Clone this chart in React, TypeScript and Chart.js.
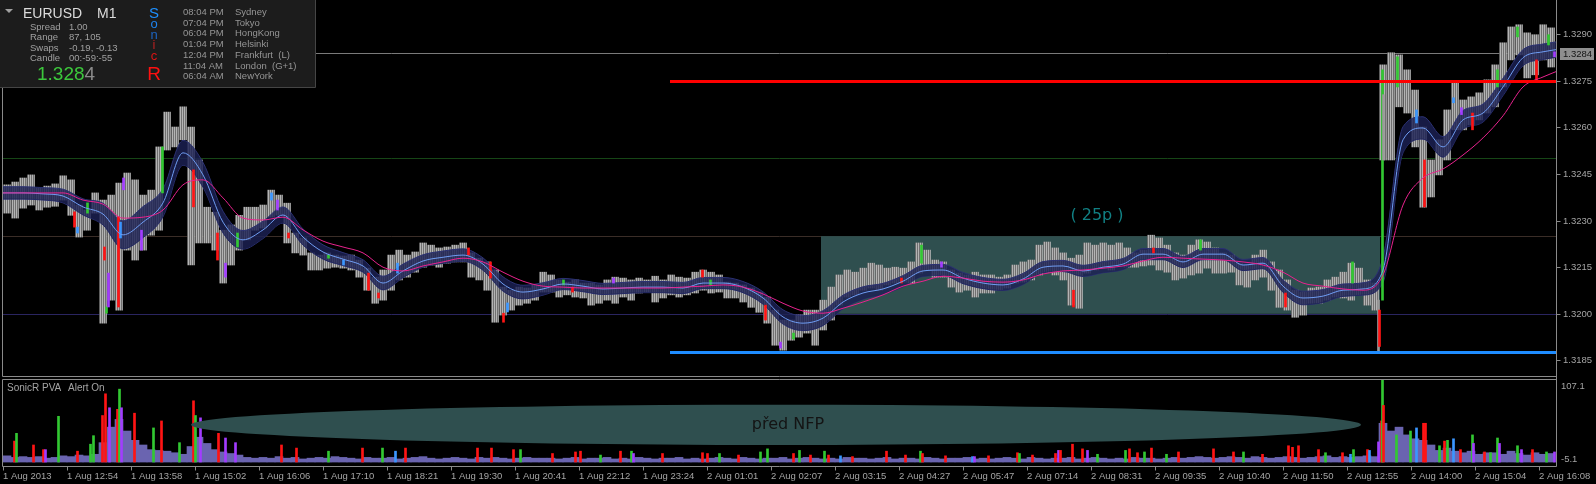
import React, { useEffect, useRef } from "react";
import { Chart, registerables } from "chart.js";

Chart.register(...registerables);

// ---------------- data ----------------
const SYMBOL = "EURUSD";
const PERIOD = "M1";
const TIME_LABELS = [
  "1 Aug 2013", "1 Aug 12:54", "1 Aug 13:58", "1 Aug 15:02", "1 Aug 16:06", "1 Aug 17:10",
  "1 Aug 18:21", "1 Aug 19:30", "1 Aug 20:41", "1 Aug 22:12", "1 Aug 23:24", "2 Aug 01:01",
  "2 Aug 02:07", "2 Aug 03:15", "2 Aug 04:27", "2 Aug 05:47", "2 Aug 07:14", "2 Aug 08:31",
  "2 Aug 09:35", "2 Aug 10:40", "2 Aug 11:50", "2 Aug 12:55", "2 Aug 14:00", "2 Aug 15:04",
  "2 Aug 16:08",
];
const BARS_PER_LABEL = 64;
const LAST_BAR = 1553;

const PRICE_TICKS = [1.329, 1.3275, 1.326, 1.3245, 1.323, 1.3215, 1.32, 1.3185];
const PRICE_MIN = 1.318;
const PRICE_MAX = 1.33;
const BID = 1.3284;
const RESISTANCE = 1.3275;
const SUPPORT = 1.31878;
const LINES_FROM_BAR = 667;
const GRID_LEVELS = [1.325, 1.3225, 1.32];
const RANGE_BOX = { fromBar: 818, toBar: 1377, low: 1.32, high: 1.3225 };
const RANGE_LABEL = { text: "( 25p )", bar: 1094, price: 1.32315 };

// price bars aggregated per 8 one-minute bars
const CHUNK = 8;
const HIGH = [
  1.32415, 1.32424, 1.32437, 1.32447, 1.32405, 1.32411, 1.32418, 1.32444, 1.32431, 1.3235,
  1.32334, 1.32389, 1.32366, 1.32382, 1.32421, 1.32453, 1.32431, 1.32382, 1.32398, 1.32537,
  1.32649, 1.32601, 1.32666, 1.32601, 1.32495, 1.32343, 1.32327, 1.32269, 1.32286, 1.32317,
  1.32343, 1.32343, 1.3235, 1.32398, 1.32382, 1.32356, 1.3226, 1.32244, 1.32196, 1.32189,
  1.32196, 1.32189, 1.32186, 1.32189, 1.32173, 1.32147, 1.32118, 1.32141, 1.32189, 1.32205,
  1.32189, 1.32199, 1.32228, 1.32221, 1.32212, 1.32215, 1.32221, 1.32228, 1.32196, 1.32179,
  1.32167, 1.32141, 1.32086, 1.32076, 1.32086, 1.32083, 1.32093, 1.32134, 1.32125, 1.32109,
  1.32102, 1.32109, 1.32099, 1.32099, 1.32093, 1.32109, 1.32118, 1.32115, 1.32109, 1.32115,
  1.32109, 1.32121, 1.32109, 1.32125, 1.32118, 1.32115, 1.32134, 1.32141, 1.32134, 1.32125,
  1.32102, 1.32099, 1.32093, 1.32083, 1.3207, 1.32054, 1.32012, 1.3198, 1.3198, 1.31996,
  1.32012, 1.32012, 1.32044, 1.32086, 1.32125, 1.32141, 1.32134, 1.32147, 1.32163, 1.32157,
  1.32147, 1.3215, 1.32147, 1.32167, 1.32228, 1.32205, 1.32173, 1.32167, 1.32141, 1.32131,
  1.32125, 1.32134, 1.32125, 1.32125, 1.32118, 1.32125, 1.32157, 1.32167, 1.32173, 1.32221,
  1.32231, 1.32212, 1.32196, 1.32179, 1.32189, 1.32228, 1.32221, 1.32228, 1.32221, 1.32228,
  1.32212, 1.32196, 1.32205, 1.32253, 1.32244, 1.32221, 1.32196, 1.32189, 1.32221, 1.32238,
  1.32231, 1.32212, 1.32196, 1.32189, 1.32163, 1.32157, 1.32189, 1.32205, 1.32167, 1.32141,
  1.32109, 1.32076, 1.3207, 1.32083, 1.32086, 1.32109, 1.32118, 1.32134, 1.32163, 1.32147,
  1.32109, 1.32099, 1.32801, 1.3284, 1.32833, 1.32785, 1.3272, 1.32601, 1.32495, 1.3256,
  1.32656, 1.32743, 1.32688, 1.32698, 1.32711, 1.32753, 1.32801, 1.32872, 1.32923, 1.3293,
  1.32904, 1.32898, 1.3293, 1.3292,
];
const LOW = [
  1.32324, 1.32308, 1.3234, 1.3235, 1.32334, 1.32343, 1.32346, 1.32366, 1.32317, 1.32247,
  1.32269, 1.32324, 1.3197, 1.32044, 1.32012, 1.32205, 1.32173, 1.32205, 1.32253, 1.32269,
  1.32527, 1.32537, 1.3256, 1.32157, 1.32228, 1.32228, 1.32205, 1.32099, 1.32157, 1.32205,
  1.32238, 1.32269, 1.32276, 1.32311, 1.32317, 1.32228, 1.32196, 1.32189, 1.32141, 1.32141,
  1.32147, 1.3215, 1.32147, 1.32141, 1.32118, 1.32076, 1.32034, 1.32044, 1.32076, 1.32109,
  1.32118, 1.32134, 1.3215, 1.32157, 1.3215, 1.32163, 1.32167, 1.32167, 1.32118, 1.32109,
  1.32076, 1.31973, 1.31996, 1.32012, 1.32028, 1.32034, 1.32044, 1.3207, 1.3207, 1.32054,
  1.32061, 1.32054, 1.32051, 1.32028, 1.32034, 1.32044, 1.32034, 1.32054, 1.32044, 1.32067,
  1.3207, 1.32038, 1.32051, 1.32061, 1.32054, 1.32061, 1.32067, 1.32076, 1.32067, 1.3207,
  1.32051, 1.32051, 1.32038, 1.32021, 1.32005, 1.3197, 1.31899, 1.31883, 1.31915, 1.31925,
  1.31938, 1.31899, 1.31948, 1.3198, 1.32028, 1.32054, 1.32061, 1.32076, 1.32083, 1.32076,
  1.32093, 1.32099, 1.32102, 1.32099, 1.32131, 1.32141, 1.32118, 1.32118, 1.32086, 1.3207,
  1.32076, 1.32054, 1.32067, 1.32067, 1.32076, 1.32083, 1.32099, 1.32102, 1.32109, 1.32125,
  1.32134, 1.32125, 1.32109, 1.32028, 1.32018, 1.32131, 1.32141, 1.32147, 1.32141, 1.32157,
  1.3215, 1.3215, 1.32154, 1.32157, 1.32141, 1.32134, 1.32109, 1.32115, 1.32125, 1.32131,
  1.32147, 1.32131, 1.32131, 1.32134, 1.32093, 1.32086, 1.32109, 1.32118, 1.32076, 1.32021,
  1.32012, 1.31989, 1.31996, 1.32034, 1.32034, 1.32044, 1.32054, 1.32051, 1.32044, 1.32061,
  1.32028, 1.32012, 1.32495, 1.32495, 1.32666, 1.32646, 1.32537, 1.32343, 1.32376, 1.32447,
  1.32495, 1.32592, 1.32592, 1.32608, 1.32624, 1.32646, 1.32666, 1.3273, 1.32817, 1.32833,
  1.32759, 1.32769, 1.32817, 1.32794,
];

// single coloured (high-volume) candles and the NFP wick: [bar, high, low, kind]
const ACCENTS: Array<[number, number, number, string]> = [
  [71, 1.32328, 1.32279, "r"], [74, 1.32279, 1.3226, "b"], [84, 1.32357, 1.32324, "g"],
  [101, 1.32215, 1.32173, "r"], [103, 1.32022, 1.32002, "g"], [105, 1.32131, 1.32022, "p"],
  [115, 1.32312, 1.32022, "r"], [117, 1.32295, 1.32244, "b"], [120, 1.32437, 1.32399, "p"],
  [138, 1.32269, 1.32205, "p"], [159, 1.32537, 1.32389, "g"], [190, 1.32463, 1.32344, "r"],
  [214, 1.3226, 1.32173, "r"], [222, 1.32163, 1.32118, "p"], [234, 1.3226, 1.32215, "g"],
  [268, 1.32389, 1.32366, "b"], [274, 1.32366, 1.32334, "p"], [285, 1.3226, 1.32244, "r"],
  [325, 1.32189, 1.32179, "g"], [340, 1.32173, 1.32157, "b"], [365, 1.32131, 1.32076, "r"],
  [375, 1.32067, 1.32051, "r"], [394, 1.32163, 1.32131, "b"], [465, 1.32212, 1.32189, "r"],
  [487, 1.32167, 1.32115, "r"], [500, 1.32002, 1.31973, "r"], [504, 1.32035, 1.32006, "b"],
  [560, 1.32109, 1.32093, "g"], [569, 1.32086, 1.3207, "r"], [610, 1.32115, 1.32099, "p"],
  [699, 1.32141, 1.32118, "r"], [707, 1.32109, 1.32093, "g"], [762, 1.32028, 1.3198, "r"],
  [777, 1.31909, 1.3189, "p"], [790, 1.31938, 1.31919, "g"], [898, 1.32115, 1.32099, "r"],
  [918, 1.32221, 1.32163, "g"], [938, 1.32167, 1.3215, "p"], [1070, 1.32076, 1.32022, "r"],
  [1150, 1.32212, 1.32196, "r"], [1197, 1.32238, 1.32205, "g"], [1282, 1.32067, 1.32022, "r"],
  [1349, 1.32167, 1.32099, "g"], [1375, 1.32044, 1.31876, "w"], [1376, 1.32012, 1.31895, "r"],
  [1379, 1.32785, 1.32044, "g"], [1380, 1.32705, 1.32495, "w"],
  [1394, 1.32827, 1.3273, "g"], [1413, 1.32656, 1.32614, "b"], [1421, 1.32495, 1.32344, "r"],
  [1450, 1.32695, 1.32679, "b"], [1458, 1.32663, 1.32641, "p"], [1469, 1.32646, 1.32592, "r"],
  [1494, 1.32785, 1.3273, "g"], [1514, 1.32923, 1.32891, "g"], [1533, 1.32817, 1.32746, "r"],
  [1545, 1.32898, 1.32865, "g"], [1551, 1.32843, 1.32827, "p"],
];

// moving averages sampled every 20 bars
const MA_STEP = 20;
const EMA_CLOSE = [
  1.32389, 1.32389, 1.32386, 1.32379, 1.32344, 1.32321, 1.32254, 1.32295, 1.32357, 1.32518,
  1.32447, 1.32295, 1.32238, 1.3227, 1.32318, 1.32247, 1.32199, 1.32176, 1.32154, 1.32099,
  1.32138, 1.3217, 1.32182, 1.32189, 1.3216, 1.32096, 1.3207, 1.3208, 1.32096, 1.32089,
  1.3208, 1.32083, 1.32086, 1.32086, 1.32083, 1.32099, 1.32099, 1.32086, 1.32051, 1.3199,
  1.3197, 1.31986, 1.32038, 1.32067, 1.3208, 1.32105, 1.32138, 1.32141, 1.32115, 1.32099,
  1.32093, 1.32112, 1.3215, 1.32154, 1.32138, 1.3215, 1.3216, 1.32192, 1.32192, 1.32167,
  1.32192, 1.32192, 1.32157, 1.32163, 1.32089, 1.32051, 1.32057, 1.32076, 1.3208, 1.32141,
  1.3256, 1.32598, 1.32537, 1.32624, 1.32646, 1.3273, 1.32824, 1.32843, 1.32853,
];
const BAND_HALF_PIPS = [
  2.0, 2.0, 2.0, 2.2, 2.6, 3.5, 4.5, 5.0, 4.5, 4.0,
  4.0, 3.5, 3.0, 2.8, 2.6, 2.6, 2.3, 2.1, 2.0, 2.2,
  2.2, 2.0, 2.0, 2.0, 2.0, 2.3, 2.2, 2.0, 1.8, 1.8,
  1.8, 1.8, 1.8, 1.8, 1.8, 1.8, 1.8, 1.8, 2.0, 2.3,
  2.4, 2.4, 2.2, 2.0, 1.8, 1.8, 1.8, 1.8, 1.8, 1.8,
  1.8, 1.8, 1.8, 1.8, 1.8, 1.8, 1.8, 1.8, 1.8, 1.8,
  1.8, 1.8, 1.8, 1.8, 2.0, 2.2, 2.1, 2.0, 2.0, 4.0,
  4.2, 3.6, 3.3, 3.0, 2.9, 2.8, 2.6, 2.5, 2.5,
];
const MA_SLOW = [
  1.32389, 1.32389, 1.32389, 1.32389, 1.32366, 1.32353, 1.32308, 1.32311, 1.32334, 1.32415,
  1.32431, 1.32373, 1.32308, 1.32302, 1.32311, 1.3227, 1.32234, 1.32215, 1.32196, 1.3215,
  1.32138, 1.32154, 1.32167, 1.32179, 1.32167, 1.32134, 1.32105, 1.32089, 1.32086, 1.32083,
  1.32083, 1.32083, 1.32083, 1.32083, 1.32086, 1.32089, 1.32093, 1.32086, 1.32064, 1.32034,
  1.32009, 1.32002, 1.32018, 1.32038, 1.32061, 1.32089, 1.32105, 1.32121, 1.32115, 1.32105,
  1.32102, 1.32109, 1.32128, 1.32138, 1.32141, 1.32147, 1.32154, 1.3217, 1.32182, 1.32179,
  1.32176, 1.32173, 1.32167, 1.32157, 1.32134, 1.32099, 1.32089, 1.3208, 1.32076, 1.32125,
  1.3235, 1.32437, 1.32466, 1.32511, 1.32566, 1.32637, 1.3273, 1.32762, 1.32788,
];

// volume (SonicR PVA), per 8 bars
const VOL_MIN = -5.1;
const VOL_MAX = 107.1;
const VOL_BASE = [
  8, 6, 7, 6, 7, 5, 6, 8, 7, 9,
  8, 10, 25, 45, 55, 40, 28, 22, 16, 15,
  14, 12, 10, 20, 32, 24, 16, 13, 11, 9,
  6, 5, 6, 5, 7, 5, 6, 4, 5, 6,
  5, 7, 6, 5, 4, 6, 5, 5, 6, 4,
  5, 6, 7, 5, 4, 5, 6, 5, 4, 6,
  5, 6, 5, 4, 5, 6, 5, 5, 5, 4,
  5, 6, 4, 5, 5, 6, 4, 5, 4, 6,
  5, 4, 5, 5, 6, 4, 5, 4, 5, 6,
  5, 4, 6, 5, 4, 5, 5, 6, 4, 5,
  6, 5, 4, 5, 4, 6, 5, 5, 4, 5,
  6, 4, 5, 5, 4, 6, 5, 4, 5, 5,
  6, 4, 5, 4, 5, 6, 5, 4, 6, 5,
  4, 5, 5, 6, 4, 5, 6, 5, 4, 5,
  4, 6, 5, 5, 4, 5, 6, 5, 6, 7,
  6, 5, 6, 7, 6, 5, 7, 6, 5, 6,
  7, 6, 5, 6, 7, 8, 6, 7, 6, 7,
  8, 7, 50, 40, 45, 35, 30, 28, 22, 15,
  18, 14, 12, 14, 10, 12, 12, 10, 14, 11,
  9, 12, 10, 11,
];
// single-bar volume spikes: [bar, value, kind]
const VOL_SPIKES: Array<[number, number, string]> = [
  [11, 27, "r"], [13, 37, "g"], [30, 22, "r"], [40, 16, "r"], [42, 16, "p"], [55, 59, "g"],
  [74, 14, "r"], [87, 23, "g"], [90, 34, "g"], [99, 60, "r"], [102, 88, "r"], [106, 70, "p"],
  [114, 68, "r"], [116, 94, "g"], [118, 70, "p"], [131, 63, "r"], [150, 44, "g"], [158, 53, "r"],
  [176, 25, "g"], [190, 79, "r"], [192, 60, "g"], [197, 57, "p"], [215, 37, "r"], [222, 31, "p"],
  [232, 25, "p"], [278, 22, "r"], [293, 18, "r"], [325, 14, "g"], [359, 18, "r"], [379, 18, "g"],
  [392, 14, "b"], [402, 18, "r"], [474, 18, "r"], [488, 18, "r"], [510, 16, "r"], [517, 16, "g"],
  [549, 11, "r"], [572, 13, "r"], [577, 14, "r"], [597, 9, "g"], [617, 14, "r"], [628, 14, "g"],
  [630, 11, "p"], [659, 11, "r"], [699, 12, "r"], [704, 11, "r"], [716, 11, "g"], [735, 9, "r"],
  [757, 13, "g"], [764, 17, "g"], [790, 11, "r"], [796, 15, "g"], [807, 9, "r"], [821, 14, "g"],
  [825, 9, "r"], [837, 8, "b"], [849, 7, "r"], [883, 14, "r"], [902, 9, "r"], [917, 14, "g"],
  [919, 11, "r"], [942, 8, "r"], [969, 7, "b"], [971, 7, "p"], [985, 8, "r"], [1014, 12, "r"],
  [1016, 11, "g"], [1029, 9, "r"], [1052, 11, "r"], [1055, 15, "p"], [1057, 15, "r"], [1069, 23, "r"],
  [1079, 17, "r"], [1084, 15, "p"], [1094, 10, "g"], [1122, 15, "g"], [1126, 17, "r"], [1134, 12, "r"],
  [1141, 13, "g"], [1148, 18, "r"], [1163, 10, "g"], [1175, 13, "r"], [1210, 17, "r"], [1230, 13, "r"],
  [1240, 13, "g"], [1259, 10, "r"], [1285, 21, "r"], [1289, 19, "r"], [1295, 21, "r"], [1315, 16, "r"],
  [1322, 12, "g"], [1339, 12, "r"], [1347, 10, "b"], [1350, 16, "g"], [1364, 16, "r"], [1366, 15, "b"],
  [1375, 26, "p"], [1378, 53, "r"], [1379, 107.1, "g"], [1380, 73, "r"], [1393, 35, "g"], [1407, 40, "g"],
  [1413, 44, "b"], [1420, 50, "r"], [1422, 50, "r"], [1436, 21, "g"], [1441, 27, "r"], [1444, 28, "g"],
  [1450, 30, "b"], [1457, 16, "r"], [1469, 35, "g"], [1470, 24, "p"], [1481, 13, "r"], [1487, 12, "g"],
  [1494, 31, "g"], [1496, 24, "p"], [1514, 21, "g"], [1518, 16, "p"], [1529, 16, "r"], [1543, 13, "g"],
  [1551, 13, "p"],
];
const VOL_NOTE = { text: "před NFP", bar: 785, value: 48, fromBar: 188, toBar: 1358, halfHeight: 26 };

const INFO_ROWS = [
  ["Spread", "1.00"],
  ["Range", "87, 105"],
  ["Swaps", "-0.19, -0.13"],
  ["Candle", "00:-59:-55"],
];
const CLOCKS = [
  ["08:04 PM", "Sydney"],
  ["07:04 PM", "Tokyo"],
  ["06:04 PM", "HongKong"],
  ["01:04 PM", "Helsinki"],
  ["12:04 PM", "Frankfurt  (L)"],
  ["11:04 AM", "London  (G+1)"],
  ["06:04 AM", "NewYork"],
];
const SONIC_LETTERS = ["S", "o", "n", "i", "c", "R"];
const VOL_TITLE = ["SonicR PVA", "Alert On"];

// ---------------- styles ----------------
const FONT = '"Liberation Sans", Arial, sans-serif';
const KIND_COLORS: Record<string, string> = { r: "#FF1414", g: "#32C832", p: "#A23CFF", b: "#3A96FF", w: "#9a9a9a" };
const LEVEL_COLORS = ["#164616", "#3a2d27", "#2a2560"];
const FRAME = "#8a8a8a";
const LABEL = "#a4a4a4";

function hline(ctx: CanvasRenderingContext2D, py: number, x0: number, x1: number, color: string, w: number) {
  const yy = w % 2 === 1 ? Math.round(py) + 0.5 : Math.round(py);
  ctx.strokeStyle = color;
  ctx.lineWidth = w;
  ctx.beginPath();
  ctx.moveTo(x0, yy);
  ctx.lineTo(x1, yy);
  ctx.stroke();
}

function drawInfoPanel(ctx: CanvasRenderingContext2D) {
  ctx.save();
  ctx.fillStyle = "#1c1c1c";
  ctx.fillRect(0, 0, 315, 87);
  ctx.strokeStyle = "#454545";
  ctx.lineWidth = 1;
  ctx.beginPath();
  ctx.moveTo(315.5, 0);
  ctx.lineTo(315.5, 87.5);
  ctx.lineTo(0, 87.5);
  ctx.stroke();
  ctx.fillStyle = "#a0a0a0";
  ctx.beginPath();
  ctx.moveTo(5, 9);
  ctx.lineTo(13, 9);
  ctx.lineTo(9, 13);
  ctx.closePath();
  ctx.fill();
  ctx.textAlign = "left";
  ctx.textBaseline = "middle";
  ctx.font = `14px ${FONT}`;
  ctx.fillStyle = "#dcdcdc";
  ctx.fillText(SYMBOL, 23, 14);
  ctx.fillText(PERIOD, 97, 14);
  ctx.font = `9.5px ${FONT}`;
  ctx.fillStyle = "#a0a0a0";
  INFO_ROWS.forEach(([k, v], i) => {
    const yy = 27.5 + i * 10.2;
    ctx.fillText(k, 30, yy);
    ctx.fillText(v, 69, yy);
  });
  ctx.font = `19px ${FONT}`;
  const s = BID.toFixed(4);
  const head = s.slice(0, -1);
  ctx.fillStyle = "#3cc83c";
  ctx.fillText(head, 37, 74.5);
  const w = ctx.measureText(head).width;
  ctx.fillStyle = "#8a8a8a";
  ctx.fillText(s.slice(-1), 37 + w, 74.5);
  const ys = [13.5, 24.5, 35.3, 45.5, 56.7, 75];
  const sizes = [15, 13, 13, 13, 13, 19];
  const cols = ["#1E90FF", "#1E84F0", "#1C64C0", "#B42020", "#DC1414", "#FF1010"];
  ctx.textAlign = "center";
  SONIC_LETTERS.forEach((l, i) => {
    ctx.font = `${sizes[i]}px ${FONT}`;
    ctx.fillStyle = cols[i];
    ctx.fillText(l, 154, ys[i]);
  });
  ctx.textAlign = "left";
  ctx.font = `9.5px ${FONT}`;
  ctx.fillStyle = "#969696";
  CLOCKS.forEach(([t, c], i) => {
    const yy = 12.3 + i * 10.75;
    ctx.fillText(t, 183, yy);
    ctx.fillText(c, 235, yy);
  });
  ctx.restore();
}

const mainPlugin = {
  id: "mainDecor",
  beforeDraw(chart: any) {
    const ctx = chart.ctx;
    ctx.save();
    ctx.fillStyle = "#000";
    ctx.fillRect(0, 0, chart.width, chart.height);
    ctx.restore();
  },
  beforeDatasetsDraw(chart: any) {
    const { ctx, chartArea: a } = chart;
    const x = chart.scales.x;
    const y = chart.scales.y;
    ctx.save();
    hline(ctx, y.getPixelForValue(BID), a.left, a.right, "#7a7a7a", 1);
    GRID_LEVELS.forEach((p, i) => hline(ctx, y.getPixelForValue(p), a.left, a.right, LEVEL_COLORS[i], 1));
    const bx0 = x.getPixelForValue(RANGE_BOX.fromBar);
    const bx1 = x.getPixelForValue(RANGE_BOX.toBar);
    const by0 = y.getPixelForValue(RANGE_BOX.high);
    const by1 = y.getPixelForValue(RANGE_BOX.low);
    ctx.fillStyle = "#2F4F4F";
    ctx.fillRect(bx0, by0, bx1 - bx0, by1 - by0);
    ctx.restore();
  },
  afterDatasetsDraw(chart: any) {
    const { ctx, chartArea: a } = chart;
    const x = chart.scales.x;
    const y = chart.scales.y;
    ctx.save();
    const lx = x.getPixelForValue(LINES_FROM_BAR);
    hline(ctx, y.getPixelForValue(RESISTANCE), lx, a.right, "#FF0000", 3);
    hline(ctx, y.getPixelForValue(SUPPORT), lx, a.right, "#1E8CFF", 3);
    ctx.font = '16px "DejaVu Sans", sans-serif';
    ctx.fillStyle = "#118084";
    ctx.textAlign = "center";
    ctx.textBaseline = "middle";
    ctx.fillText(RANGE_LABEL.text, x.getPixelForValue(RANGE_LABEL.bar), y.getPixelForValue(RANGE_LABEL.price));
    ctx.strokeStyle = FRAME;
    ctx.lineWidth = 1;
    ctx.beginPath();
    ctx.moveTo(2.5, 0);
    ctx.lineTo(2.5, 376.5);
    ctx.lineTo(1556.5, 376.5);
    ctx.moveTo(1556.5, 0);
    ctx.lineTo(1556.5, chart.height);
    ctx.stroke();
    ctx.font = `9.5px ${FONT}`;
    ctx.textAlign = "left";
    ctx.textBaseline = "middle";
    PRICE_TICKS.forEach((p) => {
      const py = y.getPixelForValue(p);
      hline(ctx, py, 1556.5, 1560.5, FRAME, 1);
      ctx.fillStyle = LABEL;
      ctx.fillText(p.toFixed(4), 1563, Math.round(py) + 0.5);
    });
    const bp = Math.round(y.getPixelForValue(BID));
    ctx.fillStyle = "#8e8e8e";
    ctx.fillRect(1560, bp - 5, 34, 12);
    ctx.fillStyle = "#141414";
    ctx.fillText(BID.toFixed(4), 1563, bp + 1);
    drawInfoPanel(ctx);
    ctx.restore();
  },
};

const volPlugin = {
  id: "volDecor",
  beforeDraw(chart: any) {
    const ctx = chart.ctx;
    ctx.save();
    ctx.fillStyle = "#000";
    ctx.fillRect(0, 0, chart.width, chart.height);
    ctx.restore();
  },
  afterDatasetsDraw(chart: any) {
    const { ctx } = chart;
    const x = chart.scales.x;
    const y = chart.scales.y;
    ctx.save();
    const ex0 = x.getPixelForValue(VOL_NOTE.fromBar);
    const ex1 = x.getPixelForValue(VOL_NOTE.toBar);
    const ecy = y.getPixelForValue(VOL_NOTE.value);
    const ery = Math.abs(y.getPixelForValue(VOL_NOTE.value + VOL_NOTE.halfHeight) - ecy);
    ctx.fillStyle = "#2F4F4F";
    ctx.beginPath();
    ctx.ellipse((ex0 + ex1) / 2, ecy, (ex1 - ex0) / 2, ery, 0, 0, Math.PI * 2);
    ctx.fill();
    ctx.font = '16px "DejaVu Sans", sans-serif';
    ctx.fillStyle = "#141414";
    ctx.textAlign = "center";
    ctx.textBaseline = "middle";
    ctx.fillText(VOL_NOTE.text, x.getPixelForValue(VOL_NOTE.bar), ecy);
    ctx.strokeStyle = FRAME;
    ctx.lineWidth = 1;
    ctx.beginPath();
    ctx.moveTo(2.5, 1.5);
    ctx.lineTo(1556.5, 1.5);
    ctx.moveTo(2.5, 1.5);
    ctx.lineTo(2.5, 88.5);
    ctx.lineTo(1556.5, 88.5);
    ctx.moveTo(1556.5, 0);
    ctx.lineTo(1556.5, 88.5);
    ctx.stroke();
    ctx.font = `10px ${FONT}`;
    ctx.fillStyle = LABEL;
    ctx.textAlign = "left";
    ctx.textBaseline = "middle";
    ctx.fillText(VOL_TITLE[0], 7, 10);
    ctx.fillText(VOL_TITLE[1], 68, 10);
    ctx.font = `9.5px ${FONT}`;
    ctx.textBaseline = "top";
    ctx.fillText(VOL_MAX.toFixed(1), 1561, y.getPixelForValue(VOL_MAX) + 3);
    ctx.textBaseline = "bottom";
    ctx.fillText(VOL_MIN.toFixed(1), 1561, y.getPixelForValue(VOL_MIN) - 2);
    ctx.textBaseline = "alphabetic";
    TIME_LABELS.forEach((t, k) => {
      const px = Math.round(x.getPixelForValue(k * BARS_PER_LABEL)) + 0.5;
      ctx.strokeStyle = FRAME;
      ctx.beginPath();
      ctx.moveTo(px, 88.5);
      ctx.lineTo(px, 92.5);
      ctx.stroke();
      ctx.fillStyle = LABEL;
      ctx.fillText(t, px - 0.5, 101);
    });
    ctx.restore();
  },
};

function stripePattern(ctx: CanvasRenderingContext2D): CanvasPattern | string {
  const c = document.createElement("canvas");
  c.width = 2;
  c.height = 1;
  const g = c.getContext("2d");
  if (!g) return "#999";
  g.fillStyle = "#b4b4b4";
  g.fillRect(0, 0, 1, 1);
  g.fillStyle = "#707070";
  g.fillRect(1, 0, 1, 1);
  return ctx.createPattern(c, "repeat") || "#999";
}

export default function App() {
  const mainRef = useRef<HTMLCanvasElement>(null);
  const volRef = useRef<HTMLCanvasElement>(null);

  useEffect(() => {
    const mc = mainRef.current!;
    const vc = volRef.current!;
    const pattern = stripePattern(mc.getContext("2d")!);

    const barPts = HIGH.map((h, k) => ({ x: k * CHUNK + CHUNK / 2, y: [LOW[k], h] }));
    const accentPts = ACCENTS.map(([b, h, l]) => ({ x: b + 0.5, y: [l, h] }));
    const maX = (i: number) => i * MA_STEP;
    const emaPts = EMA_CLOSE.map((v, i) => ({ x: maX(i), y: v }));
    const slowPts = MA_SLOW.map((v, i) => ({ x: maX(i), y: v }));
    const bandHi = EMA_CLOSE.map((v, i) => ({ x: maX(i), y: v + BAND_HALF_PIPS[i] / 10000 }));
    const bandLo = EMA_CLOSE.map((v, i) => ({ x: maX(i), y: v - BAND_HALF_PIPS[i] / 10000 }));

    const common = {
      responsive: false,
      animation: false as const,
      devicePixelRatio: 1,
      events: [] as any[],
      plugins: { legend: { display: false }, tooltip: { enabled: false } },
    };

    const main = new Chart(mc, {
      type: "bar",
      data: {
        datasets: [
          { type: "line", data: slowPts, borderColor: "#E8228E", borderWidth: 1, pointRadius: 0, fill: false, cubicInterpolationMode: "monotone", order: 0 } as any,
          { type: "line", data: emaPts, borderColor: "#6E9CF2", borderWidth: 1, pointRadius: 0, fill: false, cubicInterpolationMode: "monotone", order: 1 } as any,
          { type: "bar", data: accentPts, backgroundColor: ACCENTS.map((a) => KIND_COLORS[a[3]]), barThickness: 2, grouped: false, borderWidth: 0, order: 2 } as any,
          { type: "line", data: bandHi, borderColor: "#2B3172", backgroundColor: "rgba(28,33,84,0.82)", borderWidth: 1, pointRadius: 0, fill: "+1", cubicInterpolationMode: "monotone", order: 3 } as any,
          { type: "line", data: bandLo, borderColor: "#2B3172", borderWidth: 1, pointRadius: 0, fill: false, cubicInterpolationMode: "monotone", order: 4 } as any,
          { type: "bar", data: barPts, backgroundColor: pattern, barThickness: 7, grouped: false, borderWidth: 0, order: 5 } as any,
        ],
      },
      options: {
        ...common,
        layout: { padding: { left: 3, right: 40, top: 3, bottom: 2 } },
        scales: {
          x: { type: "linear", min: 0, max: LAST_BAR, offset: false, display: false },
          y: { type: "linear", min: PRICE_MIN, max: PRICE_MAX, display: false },
        },
      } as any,
      plugins: [mainPlugin],
    });

    const vol = new Chart(vc, {
      type: "bar",
      data: {
        datasets: [
          { data: VOL_SPIKES.map(([b, v]) => ({ x: b + 0.5, y: v })), backgroundColor: VOL_SPIKES.map((s) => KIND_COLORS[s[2]]), barThickness: 2, grouped: false, borderWidth: 0, order: 0 } as any,
          { data: VOL_BASE.map((v, k) => ({ x: k * CHUNK + CHUNK / 2, y: v })), backgroundColor: "#6A64B0", barThickness: CHUNK, grouped: false, borderWidth: 0, order: 1 } as any,
        ],
      },
      options: {
        ...common,
        layout: { padding: { left: 3, right: 40, top: 1, bottom: 18 } },
        scales: {
          x: { type: "linear", min: 0, max: LAST_BAR, offset: false, display: false },
          y: { type: "linear", min: VOL_MIN, max: VOL_MAX, display: false },
        },
      } as any,
      plugins: [volPlugin],
    });

    return () => {
      main.destroy();
      vol.destroy();
    };
  }, []);

  return (
    <div style={{ position: "fixed", left: 0, top: 0, width: 1596, height: 484, background: "#000", overflow: "hidden" }}>
      <canvas ref={mainRef} width={1596} height={378} style={{ position: "absolute", left: 0, top: 0, width: 1596, height: 378 }} />
      <canvas ref={volRef} width={1596} height={106} style={{ position: "absolute", left: 0, top: 378, width: 1596, height: 106 }} />
    </div>
  );
}
